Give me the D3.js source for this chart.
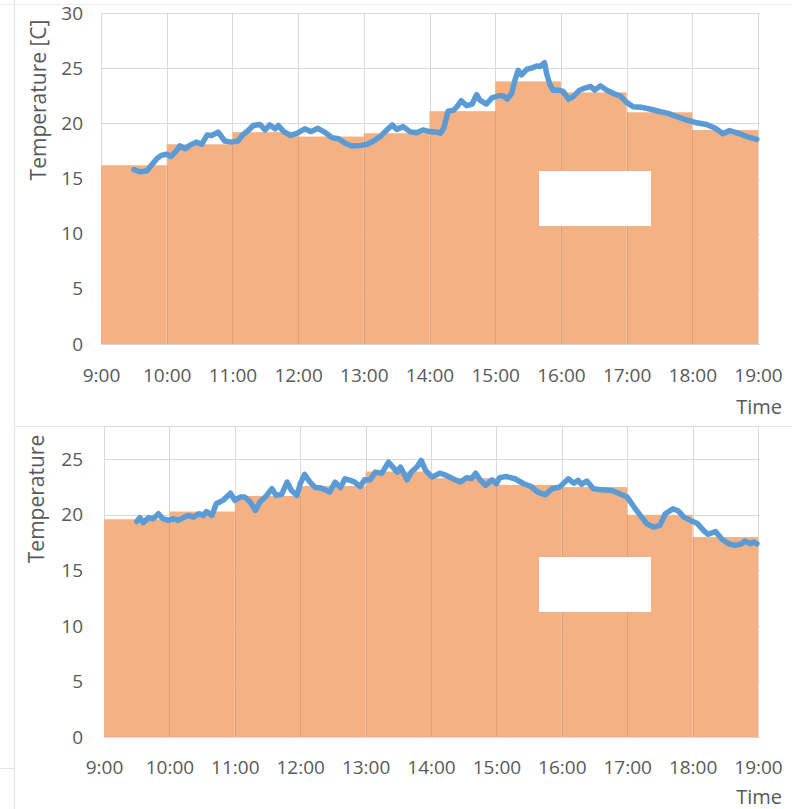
<!DOCTYPE html>
<html>
<head>
<meta charset="utf-8">
<script src="https://cdnjs.cloudflare.com/ajax/libs/d3/7.8.5/d3.min.js"></script>
<style>
  html, body { margin: 0; padding: 0; background: #fff; }
  svg { display: block; }
  text { font-family: "Open Sans", "DejaVu Sans", sans-serif; fill: #595959; }
</style>
</head>
<body>
<svg id="chart" width="792" height="809"></svg>
<script>
// ---------- DATA ----------
const hourLabels = ["9:00","10:00","11:00","12:00","13:00","14:00","15:00","16:00","17:00","18:00","19:00"];
const hourStarts = [0, 60, 120, 180, 240, 300, 360, 420, 480, 540]; // minutes after 9:00

// Chart 1 (top)
const barsTop = [16.2, 18.1, 19.2, 18.8, 19.1, 21.1, 23.8, 22.8, 21.0, 19.4];
const lineTopMinutes = [30,36,42,46,51,55,60,64,68,72,77,81,87,92,97,101,107,113,119,125,129,135,139,145,150,154,159,162,167,173,179,186,192,198,205,211,217,223,229,237,243,249,255,261,266,270,276,282,288,294,300,307,310,313,317,322,325,329,334,339,343,346,352,357,363,367,371,375,378,381,384,389,393,398,401,405,407,410,413,418,422,427,431,437,442,447,451,456,462,468,474,480,486,494,501,511,518,526,535,544,553,561,568,574,582,590,599];
const lineTopValues = [15.8,15.6,15.7,16.2,16.8,17.1,17.2,17.0,17.4,17.95,17.7,18.0,18.3,18.1,18.95,18.9,19.2,18.4,18.3,18.4,18.9,19.4,19.8,19.9,19.4,19.85,19.5,19.8,19.25,18.9,19.1,19.5,19.25,19.55,19.15,18.7,18.6,18.2,17.95,18.0,18.1,18.4,18.8,19.4,19.85,19.45,19.7,19.25,19.15,19.4,19.25,19.2,19.1,19.55,21.1,21.2,21.5,22.05,21.6,21.75,22.6,22.1,21.75,22.3,22.5,22.5,22.2,22.7,23.9,24.8,24.4,24.9,25.0,25.2,25.15,25.5,24.5,23.5,23.0,23.0,22.9,22.2,22.4,23.0,23.2,23.35,23.0,23.4,23.0,22.7,22.5,21.9,21.5,21.45,21.3,21.05,20.9,20.6,20.3,20.05,19.9,19.55,19.05,19.35,19.1,18.8,18.55];
const yTicksTop = [0, 5, 10, 15, 20, 25, 30];

// Chart 2 (bottom)
const barsBottom = [19.6, 20.3, 21.7, 22.6, 23.9, 23.3, 22.7, 22.5, 20.0, 18.0];
const lineBottomMinutes = [30,33,36,41,45,50,54,59,64,68,73,77,82,87,91,94,99,103,109,116,120,125,129,134,139,143,148,154,158,163,168,172,177,180,184,189,194,198,203,207,212,217,221,226,230,235,239,244,249,255,261,265,269,272,278,282,287,291,295,301,308,314,320,327,333,337,341,345,350,356,360,363,369,377,385,392,398,405,411,418,426,431,435,438,443,449,457,466,473,480,486,492,498,504,510,515,522,527,532,538,544,550,554,561,567,573,579,585,588,593,596,599];
const lineBottomValues = [19.4,19.75,19.3,19.75,19.65,20.1,19.65,19.5,19.65,19.5,19.75,19.95,19.8,20.1,19.95,20.3,19.95,21.0,21.3,21.95,21.3,21.6,21.6,21.15,20.4,21.15,21.6,22.35,21.75,21.85,22.95,22.2,21.75,22.8,23.65,22.95,22.45,22.45,22.25,22.05,22.95,22.45,23.25,23.1,22.95,22.55,23.15,23.15,23.85,23.75,24.75,24.3,23.85,24.3,23.15,23.85,24.3,24.9,24.0,23.4,23.75,23.55,23.25,22.95,23.35,23.25,23.75,23.15,22.65,23.15,22.8,23.35,23.45,23.25,22.8,22.55,22.05,21.8,22.35,22.5,23.25,22.85,23.1,22.75,23.05,22.35,22.25,22.2,21.9,21.6,20.75,19.95,19.2,18.9,19.05,20.1,20.55,20.35,19.8,19.5,19.25,18.6,18.25,18.5,17.8,17.4,17.25,17.4,17.65,17.4,17.55,17.4];
const yTicksBottom = [0, 5, 10, 15, 20, 25];

// ---------- DRAW ----------
const svg = d3.select("#chart");
const BAR = "#F4B183", BAR_EDGE = "#DDA078", LINE = "#5B9BD5", GRID = "#D9D9D9";

// page frame lines
svg.append("line").attr("x1", 14.5).attr("x2", 14.5).attr("y1", 0).attr("y2", 809).attr("stroke", "#E2E2E2");
svg.append("line").attr("x1", 0).attr("x2", 792).attr("y1", 4.5).attr("y2", 4.5).attr("stroke", "#EEEEEE");
svg.append("line").attr("x1", 0).attr("x2", 14).attr("y1", 768.5).attr("y2", 768.5).attr("stroke", "#E2E2E2");
svg.append("line").attr("x1", 14).attr("x2", 792).attr("y1", 426.5).attr("y2", 426.5).attr("stroke", "#E6E6E6");

function drawChart(cfg) {
  const x = d3.scaleLinear().domain([0, 600]).range([cfg.x0, cfg.x1]);
  const y = d3.scaleLinear().domain([0, cfg.yMax]).range([cfg.y0, cfg.y1]);
  const g = svg.append("g");

  // horizontal gridlines
  g.append("g").selectAll("line").data(cfg.yTicks).join("line")
    .attr("x1", cfg.x0).attr("x2", cfg.x1 + 2)
    .attr("y1", d => Math.round(y(d)) + 0.5).attr("y2", d => Math.round(y(d)) + 0.5)
    .attr("stroke", GRID);
  // top border (if domain max is not a tick)
  g.append("line").attr("x1", cfg.x0).attr("x2", cfg.x1)
    .attr("y1", Math.round(y(cfg.yMax)) + 0.5).attr("y2", Math.round(y(cfg.yMax)) + 0.5).attr("stroke", GRID);
  // vertical gridlines
  g.append("g").selectAll("line").data(d3.range(0, 601, 60)).join("line")
    .attr("x1", d => Math.round(x(d)) + 0.5).attr("x2", d => Math.round(x(d)) + 0.5)
    .attr("y1", y(cfg.yMax)).attr("y2", y(0))
    .attr("stroke", GRID);

  // bars
  g.append("g").selectAll("rect").data(cfg.bars).join("rect")
    .attr("x", (d, i) => x(hourStarts[i]))
    .attr("width", (d, i) => x(hourStarts[i] + 60) - x(hourStarts[i]))
    .attr("y", d => y(d))
    .attr("height", d => y(0) - y(d))
    .attr("fill", BAR);
  // bar separators
  g.append("g").selectAll("line").data(cfg.bars.slice(1)).join("line")
    .attr("x1", (d, i) => Math.round(x(hourStarts[i + 1])) + 0.5)
    .attr("x2", (d, i) => Math.round(x(hourStarts[i + 1])) + 0.5)
    .attr("y1", y(0))
    .attr("y2", (d, i) => y(Math.min(d, cfg.bars[i])))
    .attr("stroke", BAR_EDGE);

  // line
  const pts = cfg.lineMin.map((m, i) => [m, cfg.lineVal[i]]);
  g.append("path").datum(pts)
    .attr("d", d3.line().x(d => x(d[0])).y(d => y(d[1])))
    .attr("fill", "none").attr("stroke", LINE).attr("stroke-width", 5.5)
    .attr("stroke-linejoin", "round").attr("stroke-linecap", "round");

  // y axis labels
  const yAxis = d3.axisLeft(y).tickValues(cfg.yTicks).tickSize(0).tickPadding(0);
  const ya = g.append("g").attr("transform", `translate(${cfg.yLabelX},0)`).call(yAxis);
  ya.select(".domain").remove();
  ya.selectAll("text").attr("font-size", 19).attr("fill", "#595959")
    .style("font-family", '"Open Sans", sans-serif');

  // x axis labels
  const xAxis = d3.axisBottom(x).tickValues(d3.range(0, 601, 60))
    .tickFormat((d, i) => hourLabels[i]).tickSize(0).tickPadding(0);
  const xa = g.append("g").attr("transform", `translate(0,${cfg.xLabelY})`).call(xAxis);
  xa.select(".domain").remove();
  xa.selectAll("text").attr("font-size", 19).attr("fill", "#595959").attr("dy", "0")
    .style("font-family", '"Open Sans", sans-serif');

  // axis titles
  g.append("text").attr("x", 782).attr("y", cfg.timeY).attr("text-anchor", "end")
    .attr("font-size", 20).text("Time");
  g.append("text")
    .attr("transform", `translate(${cfg.yTitleX},${cfg.yTitleY}) rotate(-90)`)
    .attr("text-anchor", "middle").attr("font-size", 21).text(cfg.yTitle);

  // white box
  g.append("rect").attr("x", 539).attr("y", cfg.boxY).attr("width", 112).attr("height", 55).attr("fill", "#fff");
}

drawChart({
  x0: 101, x1: 758, y0: 344, y1: 13, yMax: 30,
  bars: barsTop, lineMin: lineTopMinutes, lineVal: lineTopValues, yTicks: yTicksTop,
  yLabelX: 83, xLabelY: 382, timeY: 414, yTitleX: 46, yTitleY: 100,
  yTitle: "Temperature [C]", boxY: 171
});

drawChart({
  x0: 104, x1: 758, y0: 737, y1: 426, yMax: 28,
  bars: barsBottom, lineMin: lineBottomMinutes, lineVal: lineBottomValues, yTicks: yTicksBottom,
  yLabelX: 83, xLabelY: 774, timeY: 804, yTitleX: 44, yTitleY: 499,
  yTitle: "Temperature", boxY: 557
});
</script>
</body>
</html>
